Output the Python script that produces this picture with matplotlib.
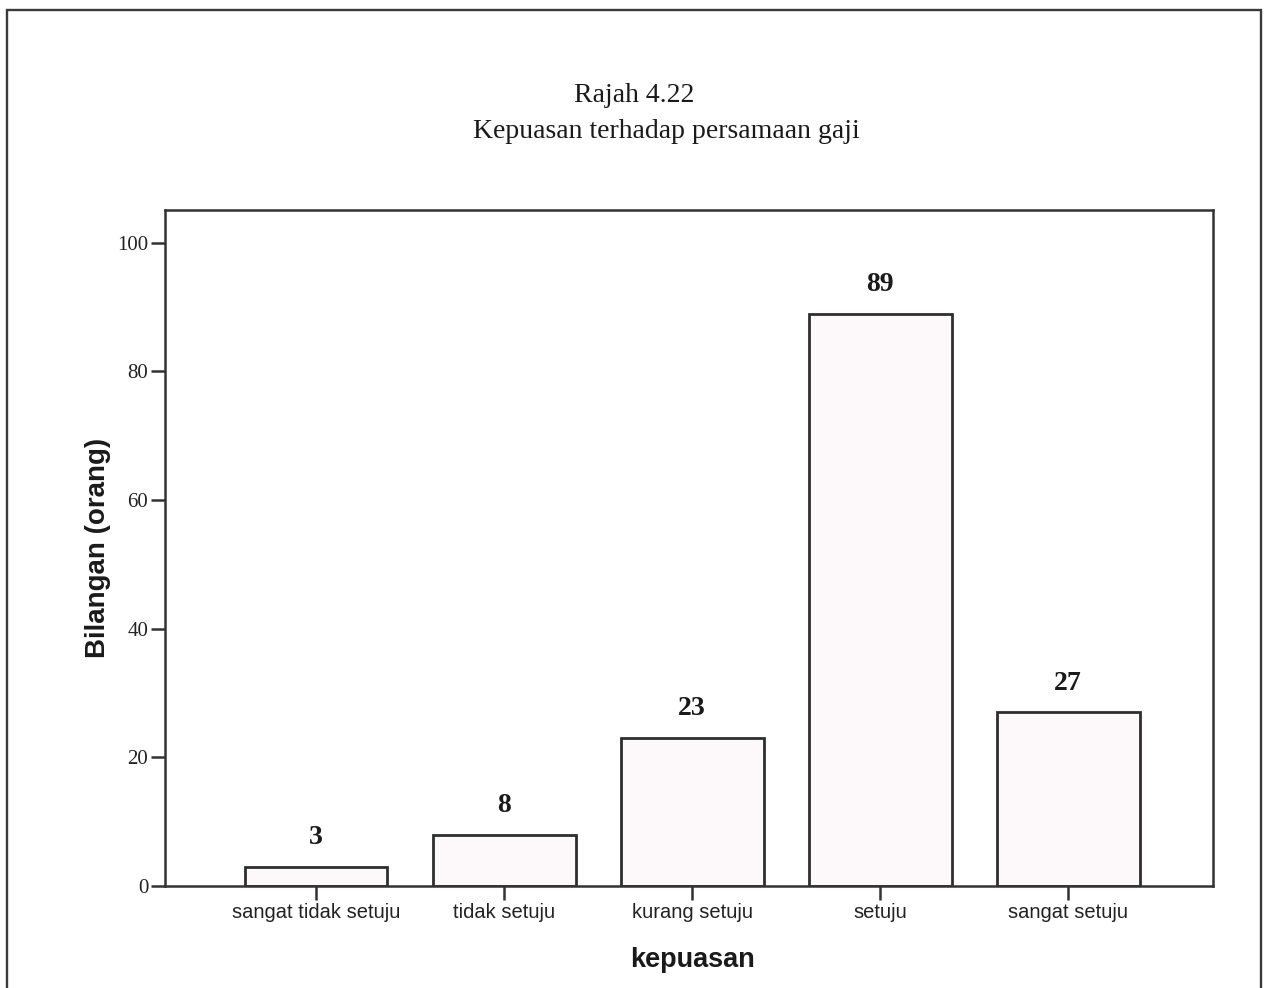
import matplotlib.pyplot as plt
from matplotlib.patches import Rectangle

categories = ["sangat tidak setuju", "tidak setuju", "kurang setuju", "setuju", "sangat setuju"]
counts = [3, 8, 23, 89, 27]
yticks = [0, 20, 40, 60, 80, 100]

fig = plt.figure(figsize=(12.71, 9.88), dpi=100)

# outer frame of the page
fig.patches.append(Rectangle((7 / 1271, -0.01), 1254 / 1271, 1 - 10 / 988 + 0.01,
                             transform=fig.transFigure, fill=False,
                             edgecolor='#3a3a3a', linewidth=1.7))

ax = fig.add_axes([165 / 1271, 1 - 886 / 988, 1048 / 1271, 676 / 988])

x = list(range(len(categories)))
bars = ax.bar(x, counts, width=0.76, color='#fdf8f9', edgecolor='#2e2e2e', linewidth=2)

for xi, v in zip(x, counts):
    ax.annotate(str(v), xy=(xi, v), xytext=(0, 21), textcoords='offset points',
                ha='center', va='center', fontsize=20, fontweight='bold',
                family='Liberation Serif', color='#1a1a1a')

ax.set_xlim(-0.803, 4.77)
ax.set_ylim(0, 105.1)
ax.set_xticks(x)
ax.set_xticklabels(categories, fontsize=14.5, family='Liberation Sans', color='#222222')
ax.set_yticks(yticks)
ax.set_yticklabels([str(t) for t in yticks], fontsize=15, family='Liberation Serif',
                   color='#222222')
ax.tick_params(axis='both', direction='out', length=10, width=1.8, color='#333333', pad=2)

for s in ax.spines.values():
    s.set_color('#333333')
    s.set_linewidth(1.8)

ax.set_ylabel("Bilangan (orang)", fontsize=20, fontweight='bold', family='Liberation Sans',
              color='#1a1a1a')
ax.yaxis.set_label_coords(-0.052, 0.5)
ax.set_xlabel("kepuasan", fontsize=19.5, fontweight='bold', family='Liberation Sans',
              color='#1a1a1a')
ax.xaxis.set_label_coords(0.503, -0.09)

fig.text(634 / 1271, 1 - 95 / 988, "Rajah 4.22", ha='center', va='center',
         fontsize=20, family='Liberation Serif', color='#1a1a1a')
fig.text(666 / 1271, 1 - 132 / 988, "Kepuasan terhadap persamaan gaji", ha='center',
         va='center', fontsize=20, family='Liberation Serif', color='#1a1a1a')

fig.savefig("out.png", dpi=100)
